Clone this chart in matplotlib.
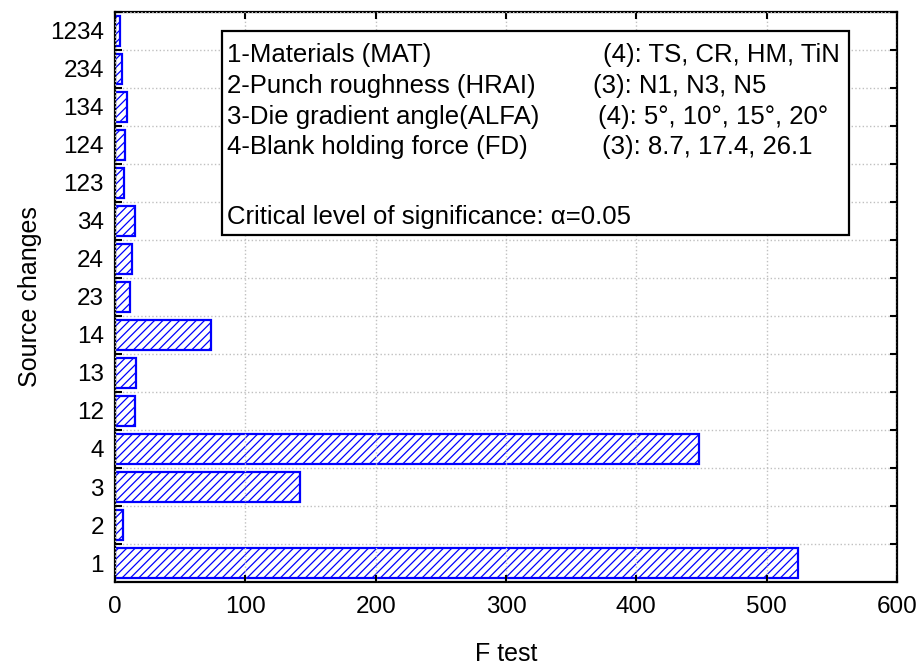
import numpy as np
import matplotlib
matplotlib.use("Agg")
import matplotlib.pyplot as plt
from matplotlib.patches import Rectangle

plt.rcParams['font.family'] = ['Liberation Sans', 'DejaVu Sans']
plt.rcParams['hatch.color'] = 'blue'
plt.rcParams['hatch.linewidth'] = 0.9

# source of variation (bottom to top) and F test values
sources = ["1", "2", "3", "4", "12", "13", "14", "23", "24", "34",
           "123", "124", "134", "234", "1234"]
f_values = [524, 6.5, 142, 448, 15.3, 16, 74, 11.7, 13, 15.6,
            7, 7.7, 9.2, 5.6, 4]

x_ticks = [0, 100, 200, 300, 400, 500, 600]

factor_lines = ["1-Materials (MAT)", "2-Punch roughness (HRAI)",
                "3-Die gradient angle(ALFA)", "4-Blank holding force (FD)"]
level_lines = ["(4): TS, CR, HM, TiN", "(3): N1, N3, N5",
               "(4): 5°, 10°, 15°, 20°", "(3): 8.7, 17.4, 26.1"]
note = "Critical level of significance: α=0.05"

fig = plt.figure(figsize=(9.18, 6.65), dpi=100)
ax = fig.add_axes([0.1253, 0.1248, 0.8517, 0.8572])

y = np.arange(len(sources))
ax.barh(y, f_values, height=0.8, color='white', edgecolor='blue',
        linewidth=1.6, hatch='////', zorder=2)

ax.set_xlim(0, 600)
ax.set_ylim(-0.5, len(sources) - 0.5)
ax.set_xticks(x_ticks)
# labels on bar centres, ticks and grid on the boundaries
ax.set_yticks(y + 0.5, minor=False)
ax.set_yticklabels([])
ax.set_yticks(y, minor=True)
ax.set_yticklabels(sources, minor=True)
ax.tick_params(axis='y', which='minor', length=0, labelsize=17.5, pad=8)
ax.tick_params(axis='y', which='major', direction='in', length=5, width=1.5,
               left=True, right=True)
ax.tick_params(axis='x', direction='in', length=5, width=1.5, top=True,
               labelsize=17.5, pad=10)

ax.grid(True, which='major', linestyle=':', color='#c0c0c0', linewidth=1, zorder=3)
ax.set_axisbelow(False)
for s in ax.spines.values():
    s.set_linewidth(1.6)

ax.set_xlabel("F test", fontsize=18, labelpad=17)
ax.set_ylabel("Source changes", fontsize=18, labelpad=6)

# info box
box = Rectangle((0.137, 0.6088), 0.8016, 0.358, transform=ax.transAxes,
                facecolor='white', edgecolor='black', linewidth=1.6, zorder=5)
ax.add_patch(box)
base_y = [0.9123, 0.8579, 0.8035, 0.7509]
right_x = [0.624, 0.611, 0.6176, 0.6228]
for i in range(4):
    ax.text(0.143, base_y[i], factor_lines[i], transform=ax.transAxes,
            fontsize=18.5, va='baseline', ha='left', zorder=6)
    ax.text(right_x[i], base_y[i], level_lines[i], transform=ax.transAxes,
            fontsize=18.5, va='baseline', ha='left', zorder=6)
ax.text(0.143, 0.6281, note, transform=ax.transAxes, fontsize=18.5,
        va='baseline', ha='left', zorder=6)

fig.savefig("out.png", dpi=100)
